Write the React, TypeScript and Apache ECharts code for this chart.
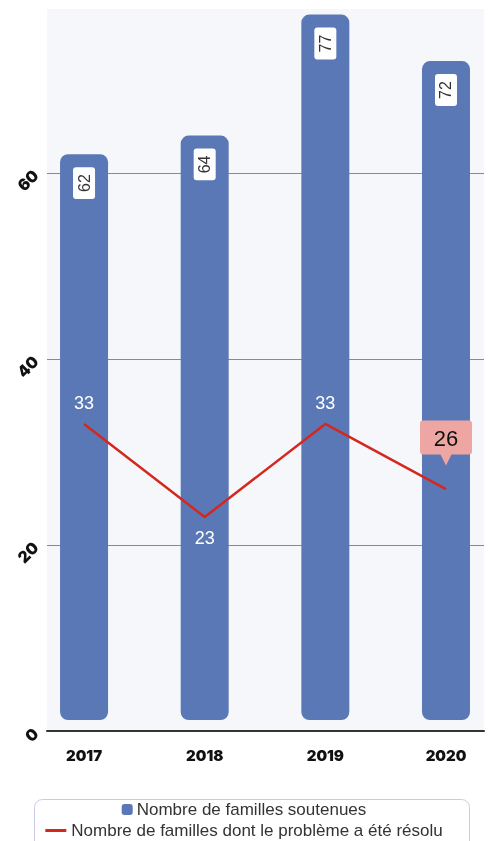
import React, { useEffect, useRef } from "react";
import * as echarts from "echarts";

const years = [2017, 2018, 2019, 2020];
const supportedFamilies = [62, 64, 77, 72];
const resolvedFamilies = [33, 23, 33, 26];
const yLabelStep = 20;
const seriesNames = [
  "Nombre de familles soutenues",
  "Nombre de familles dont le problème a été résolu",
];

const BAR_COLOR = "#5b78b6";
const LINE_COLOR = "#d4281f";
const CALLOUT_COLOR = "#eea6a2";
const FONT = '"Liberation Sans", Arial, sans-serif';
const BOLD_FONT = "Inter, sans-serif";

export default function App() {
  const ref = useRef<HTMLDivElement>(null);

  useEffect(() => {
    if (!ref.current) return;
    const chart = echarts.init(ref.current, null, { renderer: "svg" });

    const barData = years.map((y, i) => [y, supportedFamilies[i]]);
    const lastIdx = years.length - 1;
    const lineData = years.map((y, i) => {
      const item: any = { value: [y, resolvedFamilies[i]] };
      if (i === lastIdx) item.label = { show: false };
      else if (i > 0 && resolvedFamilies[i] < resolvedFamilies[i - 1])
        item.label = { position: "bottom" };
      return item;
    });

    const calloutPath =
      "path://M3,0 H49 Q52,0 52,3 V31 Q52,34 49,34 H31.5 L26,45 L20.5,34 H3 Q0,34 0,31 V3 Q0,0 3,0 Z";

    const option: any = {
      animation: false,
      grid: {
        left: 47,
        right: 4,
        top: 9,
        bottom: 110,
        show: true,
        backgroundColor: "#f5f7fb",
        borderWidth: 0,
      },
      xAxis: {
        type: "value",
        min: 2016.693,
        max: 2020.315,
        offset: 2,
        axisLine: { show: true, lineStyle: { color: "#333", width: 2 } },
        axisTick: { show: false },
        splitLine: { show: false },
        axisLabel: {
          customValues: years,
          formatter: (v: number) => String(v),
          color: "#111",
          fontFamily: BOLD_FONT,
          fontWeight: 900,
          fontSize: 15,
          margin: 15,
        },
      },
      yAxis: {
        type: "value",
        min: 0,
        max: 77.6,
        interval: yLabelStep,
        axisLine: { show: false },
        axisTick: { show: false },
        splitLine: {
          show: true,
          showMinLine: false,
          showMaxLine: false,
          lineStyle: { color: "#8a8a8a", width: 1 },
        },
        axisLabel: {
          showMaxLabel: false,
          rotate: 45,
          color: "#111",
          fontFamily: BOLD_FONT,
          fontWeight: 900,
          fontSize: 16,
          margin: 11,
        },
      },
      legend: [
        {
          data: [
            { name: seriesNames[0], icon: "roundRect", itemStyle: { color: BAR_COLOR } },
          ],
          left: "center",
          top: 801,
          padding: 0,
          itemWidth: 11,
          itemHeight: 11,
          itemGap: 4,
          textStyle: { fontFamily: FONT, fontSize: 17, color: "#333", padding: [0, 0, 0, -1] },
          selectedMode: false,
        },
        {
          data: [
            { name: seriesNames[1], icon: "rect", itemStyle: { color: LINE_COLOR } },
          ],
          left: "center",
          top: 822,
          padding: 0,
          itemWidth: 21,
          itemHeight: 3,
          textStyle: { fontFamily: FONT, fontSize: 17, color: "#333" },
          selectedMode: false,
        },
      ],
      graphic: [
        {
          type: "rect",
          left: 32,
          top: 797,
          shape: { width: 435, height: 60, r: 8 },
          style: { fill: "none", stroke: "#c8cae8", lineWidth: 1 },
          silent: true,
        },
      ],
      series: [
        {
          name: seriesNames[0],
          type: "custom",
          z: 2,
          itemStyle: { color: BAR_COLOR },
          data: barData,
          renderItem: (params: any, api: any) => {
            const x = api.value(0);
            const v = api.value(1);
            const top = api.coord([x, v]);
            const base = api.coord([x, 0]);
            const w = 48;
            const h = base[1] - 11 - top[1];
            return {
              type: "group",
              children: [
                {
                  type: "rect",
                  shape: { x: top[0] - w / 2, y: top[1], width: w, height: h, r: 8 },
                  style: { fill: BAR_COLOR },
                },
                {
                  type: "text",
                  x: top[0],
                  y: top[1] + 13,
                  rotation: Math.PI / 2,
                  style: {
                    text: String(v),
                    fill: "#333",
                    font: `16px ${FONT}`,
                    backgroundColor: "#fff",
                    padding: [3, 7],
                    borderRadius: 3,
                    align: "right",
                    verticalAlign: "middle",
                  },
                },
              ],
            };
          },
        },
        {
          name: seriesNames[1],
          type: "line",
          z: 3,
          data: lineData,
          showSymbol: true,
          symbol: "circle",
          symbolSize: 0,
          itemStyle: { color: LINE_COLOR },
          lineStyle: { color: LINE_COLOR, width: 2.5 },
          label: {
            show: true,
            position: "top",
            distance: 12,
            color: "#fff",
            fontFamily: FONT,
            fontSize: 18,
            formatter: (p: any) => String(p.value[1]),
          },
          markPoint: {
            silent: true,
            symbol: calloutPath,
            symbolSize: [52, 45],
            symbolOffset: [0, -46],
            itemStyle: { color: CALLOUT_COLOR },
            label: {
              show: true,
              offset: [0, -5],
              color: "#111",
              fontFamily: FONT,
              fontSize: 22,
              formatter: (p: any) => String(p.value),
            },
            data: [{ coord: [years[lastIdx], resolvedFamilies[lastIdx]], value: resolvedFamilies[lastIdx] }],
          },
        },
      ],
    };

    chart.setOption(option);
    return () => chart.dispose();
  }, []);

  return (
    <div
      ref={ref}
      style={{ position: "fixed", left: 0, top: 0, width: 488, height: 841 }}
    />
  );
}
